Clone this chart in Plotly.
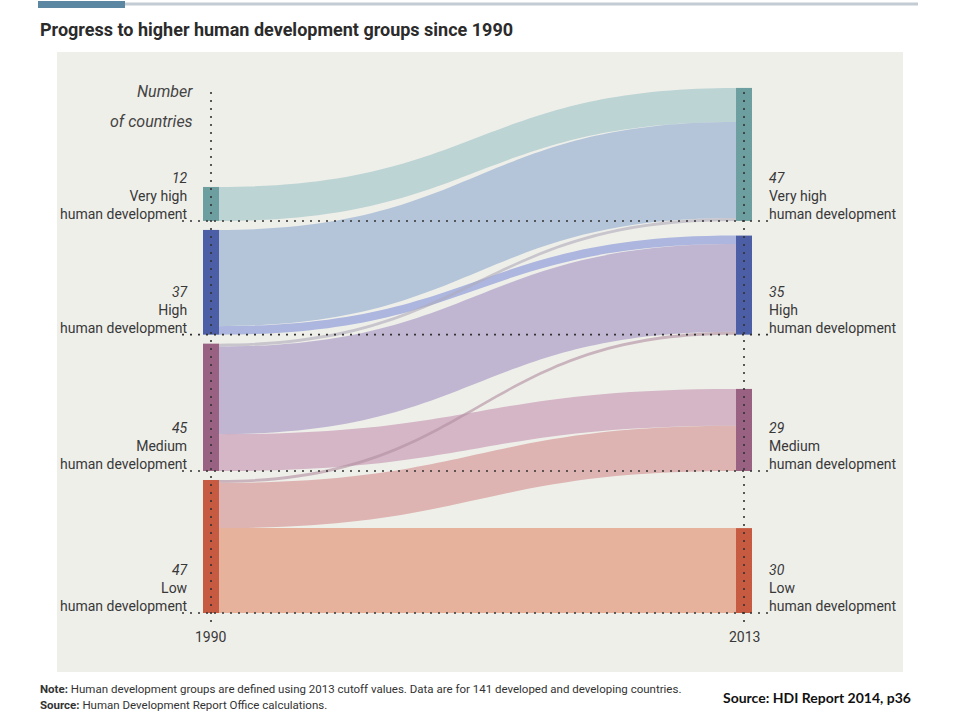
import plotly.graph_objects as go

# ---------------- data ----------------
groups = ["Very high", "High", "Medium", "Low"]
count_1990 = [12, 37, 45, 47]
count_2013 = [47, 35, 29, 30]
year_labels = ["1990", "2013"]
# flows 1990 group -> 2013 group (number of countries)
flow_source = ["Very high", "High", "High", "Medium", "Medium", "Medium", "Low", "Low", "Low"]
flow_target = ["Very high", "Very high", "High", "Very high", "High", "Medium", "High", "Medium", "Low"]
flow_value = [12, 34, 3, 1, 31, 13, 1, 16, 30]

title = "Progress to higher human development groups since 1990"
note_line = "<b>Note:</b> Human development groups are defined using 2013 cutoff values. Data are for 141 developed and developing countries."
source_line = "<b>Source:</b> Human Development Report Office calculations."
credit = "Source: HDI Report 2014, p36"

# ---------------- styles ----------------
W, H = 960, 720
FONT = "Roboto, Liberation Sans, sans-serif"
node_colors = ["#6e9fa0", "#4b5ea6", "#9a6282", "#c65b42"]
tints = [(188, 212, 212), (172, 182, 222), (212, 182, 198), (230, 178, 156)]
bg_panel = "#efefea"
text_col = "#383838"


def px(x):
    return x / W


def py(y):
    return 1 - y / H


# geometry (pixels)
k = 2.83          # pixels per country
gap = 9           # gap between 1990 nodes
base = 613        # bottom of lowest node
xl, xr = 211, 744  # node centre lines
thick = 16
dom_top, dom_bot = 80, 625
dom_h = dom_bot - dom_top
total = sum(count_1990)
pad = (dom_h - k * total) / (len(groups) - 1)

# bottoms of 1990 nodes, stacked upward
bottoms = [0] * len(groups)
cur = base
for i in range(len(groups) - 1, -1, -1):
    bottoms[i] = cur
    cur = cur - count_1990[i] * k - gap
tops_l = [bottoms[i] - count_1990[i] * k for i in range(len(groups))]
tops_r = [bottoms[i] - count_2013[i] * k for i in range(len(groups))]

dom_x0, dom_x1 = xl - thick / 2, xr + thick / 2
dom_w = dom_x1 - dom_x0

node_x = [(xl - dom_x0) / dom_w] * 4 + [(xr - dom_x0) / dom_w] * 4
node_y = [((tops_l[i] + bottoms[i]) / 2 - dom_top) / dom_h for i in range(4)] + \
         [((tops_r[i] + bottoms[i]) / 2 - dom_top) / dom_h for i in range(4)]

idx = {g: i for i, g in enumerate(groups)}
src = [idx[s] for s in flow_source]
tgt = [idx[t] + 4 for t in flow_target]


def link_col(a, b):
    ca, cb = tints[a], tints[b]
    m = [(ca[j] + cb[j]) / 2 for j in range(3)]
    bg = (239, 239, 234)
    al = 0.62
    c = [max(0, min(255, round((m[j] - (1 - al) * bg[j]) / al))) for j in range(3)]
    return f"rgba({c[0]},{c[1]},{c[2]},{al})"


link_colors = [link_col(idx[s], idx[t]) for s, t in zip(flow_source, flow_target)]

fig = go.Figure()
fig.add_trace(go.Sankey(
    arrangement="fixed",
    domain=dict(x=[px(dom_x0), px(dom_x1)], y=[py(dom_bot), py(dom_top)]),
    node=dict(
        label=[""] * 8,
        customdata=[g + " (" + year_labels[0] + ")" for g in groups] + [g + " (" + year_labels[1] + ")" for g in groups],
        hovertemplate="%{customdata}: %{value}<extra></extra>",
        x=node_x, y=node_y,
        pad=pad, thickness=thick,
        color=node_colors + node_colors,
        line=dict(width=0),
    ),
    link=dict(source=src, target=tgt, value=flow_value, color=link_colors,
              hovertemplate="%{value} countries<extra></extra>"),
))

shapes = []
# background panel
shapes.append(dict(type="rect", xref="paper", yref="paper", x0=px(57), x1=px(903), y0=py(672), y1=py(52),
                   fillcolor=bg_panel, line=dict(width=0), layer="below"))
# top rule
shapes.append(dict(type="line", xref="paper", yref="paper", x0=px(125), x1=px(918), y0=py(4), y1=py(4),
                   line=dict(color="#c3ccd3", width=3)))
shapes.append(dict(type="rect", xref="paper", yref="paper", x0=px(38), x1=px(125), y0=py(8), y1=py(1),
                   fillcolor="#5c87a2", line=dict(width=0)))
# dotted guides
dot = dict(color="#333333", width=1.6, dash="2px,6px")
for xc in (xl, xr):
    shapes.append(dict(type="line", xref="paper", yref="paper", x0=px(xc), x1=px(xc),
                       y0=py(base + 9), y1=py(tops_r[0] - 1), line=dot, layer="above"))
for b in bottoms:
    shapes.append(dict(type="line", xref="paper", yref="paper", x0=px(182), x1=px(768),
                       y0=py(b), y1=py(b), line=dot, layer="above"))

ann = []
ann.append(dict(text="<b>" + title + "</b>", x=px(38), y=py(30), xanchor="left", yanchor="middle",
                font=dict(family=FONT, size=18, color="#2b2b2b")))
ann.append(dict(text="<i>Number</i>", x=px(195), y=py(91), xanchor="right", yanchor="middle",
                font=dict(family=FONT, size=16, color="#444444")))
ann.append(dict(text="<i>of countries</i>", x=px(195), y=py(121), xanchor="right", yanchor="middle",
                font=dict(family=FONT, size=16, color="#444444")))
for i, g in enumerate(groups):
    ann.append(dict(text=f"<i>{count_1990[i]}</i><br>{g}<br>human development", x=px(190), y=py(bottoms[i] + 3),
                    xanchor="right", yanchor="bottom", align="right",
                    font=dict(family=FONT, size=14, color=text_col)))
    ann.append(dict(text=f"<i>{count_2013[i]}</i><br>{g}<br>human development", x=px(767), y=py(bottoms[i] + 3),
                    xanchor="left", yanchor="bottom", align="left",
                    font=dict(family=FONT, size=14, color=text_col)))
for xc, yl in zip((xl, xr), year_labels):
    ann.append(dict(text=yl, x=px(xc), y=py(637), xanchor="center", yanchor="middle",
                    font=dict(family=FONT, size=14, color=text_col)))
ann.append(dict(text=note_line, x=px(38), y=py(689), xanchor="left", yanchor="middle",
                font=dict(family=FONT, size=11.5, color="#333333")))
ann.append(dict(text=source_line, x=px(38), y=py(705), xanchor="left", yanchor="middle",
                font=dict(family=FONT, size=11.5, color="#333333")))
ann.append(dict(text="<b>" + credit + "</b>", x=px(913), y=py(697), xanchor="right", yanchor="middle",
                font=dict(family="Lato, Open Sans, sans-serif", size=14, color="#111111")))
for a in ann:
    a.update(xref="paper", yref="paper", showarrow=False)

fig.update_layout(width=W, height=H, margin=dict(l=0, r=0, t=0, b=0),
                  paper_bgcolor="white", plot_bgcolor="white",
                  shapes=shapes, annotations=ann, showlegend=False)
fig.write_html("out.html")
